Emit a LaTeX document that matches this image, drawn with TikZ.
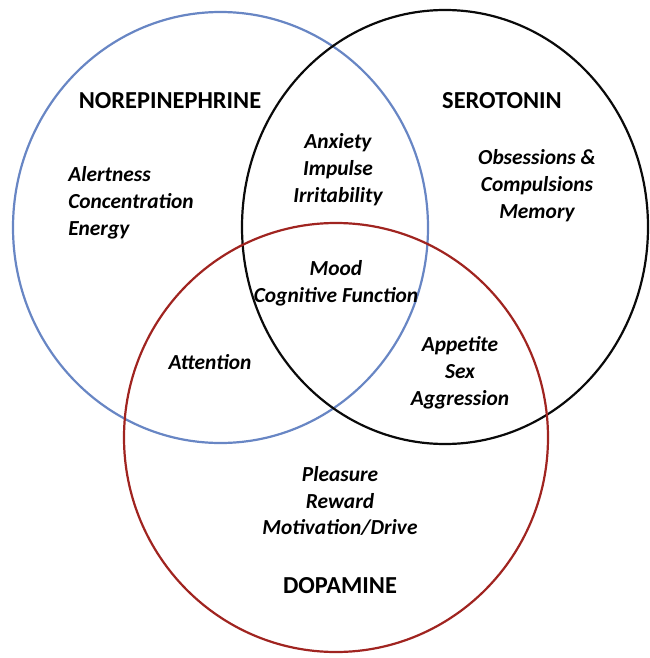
\documentclass[tikz,border=0pt]{standalone}
\usepackage{fontspec}
\setmainfont{Carlito}
\usetikzlibrary{positioning}
\definecolor{NoreBlue}{RGB}{104,134,196}
\definecolor{DopaRed}{RGB}{160,36,32}
\definecolor{SeroBlack}{RGB}{10,10,10}

\begin{document}
\begin{tikzpicture}[x=1bp, y=-1bp,
            ring/.style={line width=2.2bp},
            head/.style={inner sep=0pt, font=\bfseries\fontsize{24.5}{28}\selectfont},
            item/.style={inner sep=0pt, align=center, font=\bfseries\itshape\fontsize{21.5}{27}\selectfont}
        ]
            \useasboundingbox (0,0) rectangle (650,658);
            % the three transmitter circles
            \draw[ring, NoreBlue]  (220.5,227.5) ellipse [x radius=207.5bp, y radius=215.5bp];
            \draw[ring, SeroBlack] (445,227)     ellipse [x radius=203bp, y radius=217bp];
            \draw[ring, DopaRed]   (336,437.5)   ellipse [x radius=212bp, y radius=214.5bp];
            % names
            \node[head] (nore) at (170,101) {NOREPINEPHRINE};
            \node[head] (sero) at (502,101) {SEROTONIN};
            \node[head] (dopa) at (340,586) {DOPAMINE};
            % functions
            \node[item, align=left] (alert)  at (131,203) {Alertness\\Concentration\\Energy};
            \node[item] (anx)    at (338,170) {Anxiety\\Impulse\\Irritability};
            \node[item] (obs)    at (537,186) {Obsessions \&\\Compulsions\\Memory};
            \node[item] (mood)   at (336,283) {Mood\\Cognitive Function};
            \node[item] (attn)   at (210,362) {Attention};
            \node[item] (appet)  at (460,373) {Appetite\\Sex\\Aggression};
            \node[item] (pleas)  at (340,501) {Pleasure\\Reward\\Motivation/Drive};
        \end{tikzpicture}
\end{document}
